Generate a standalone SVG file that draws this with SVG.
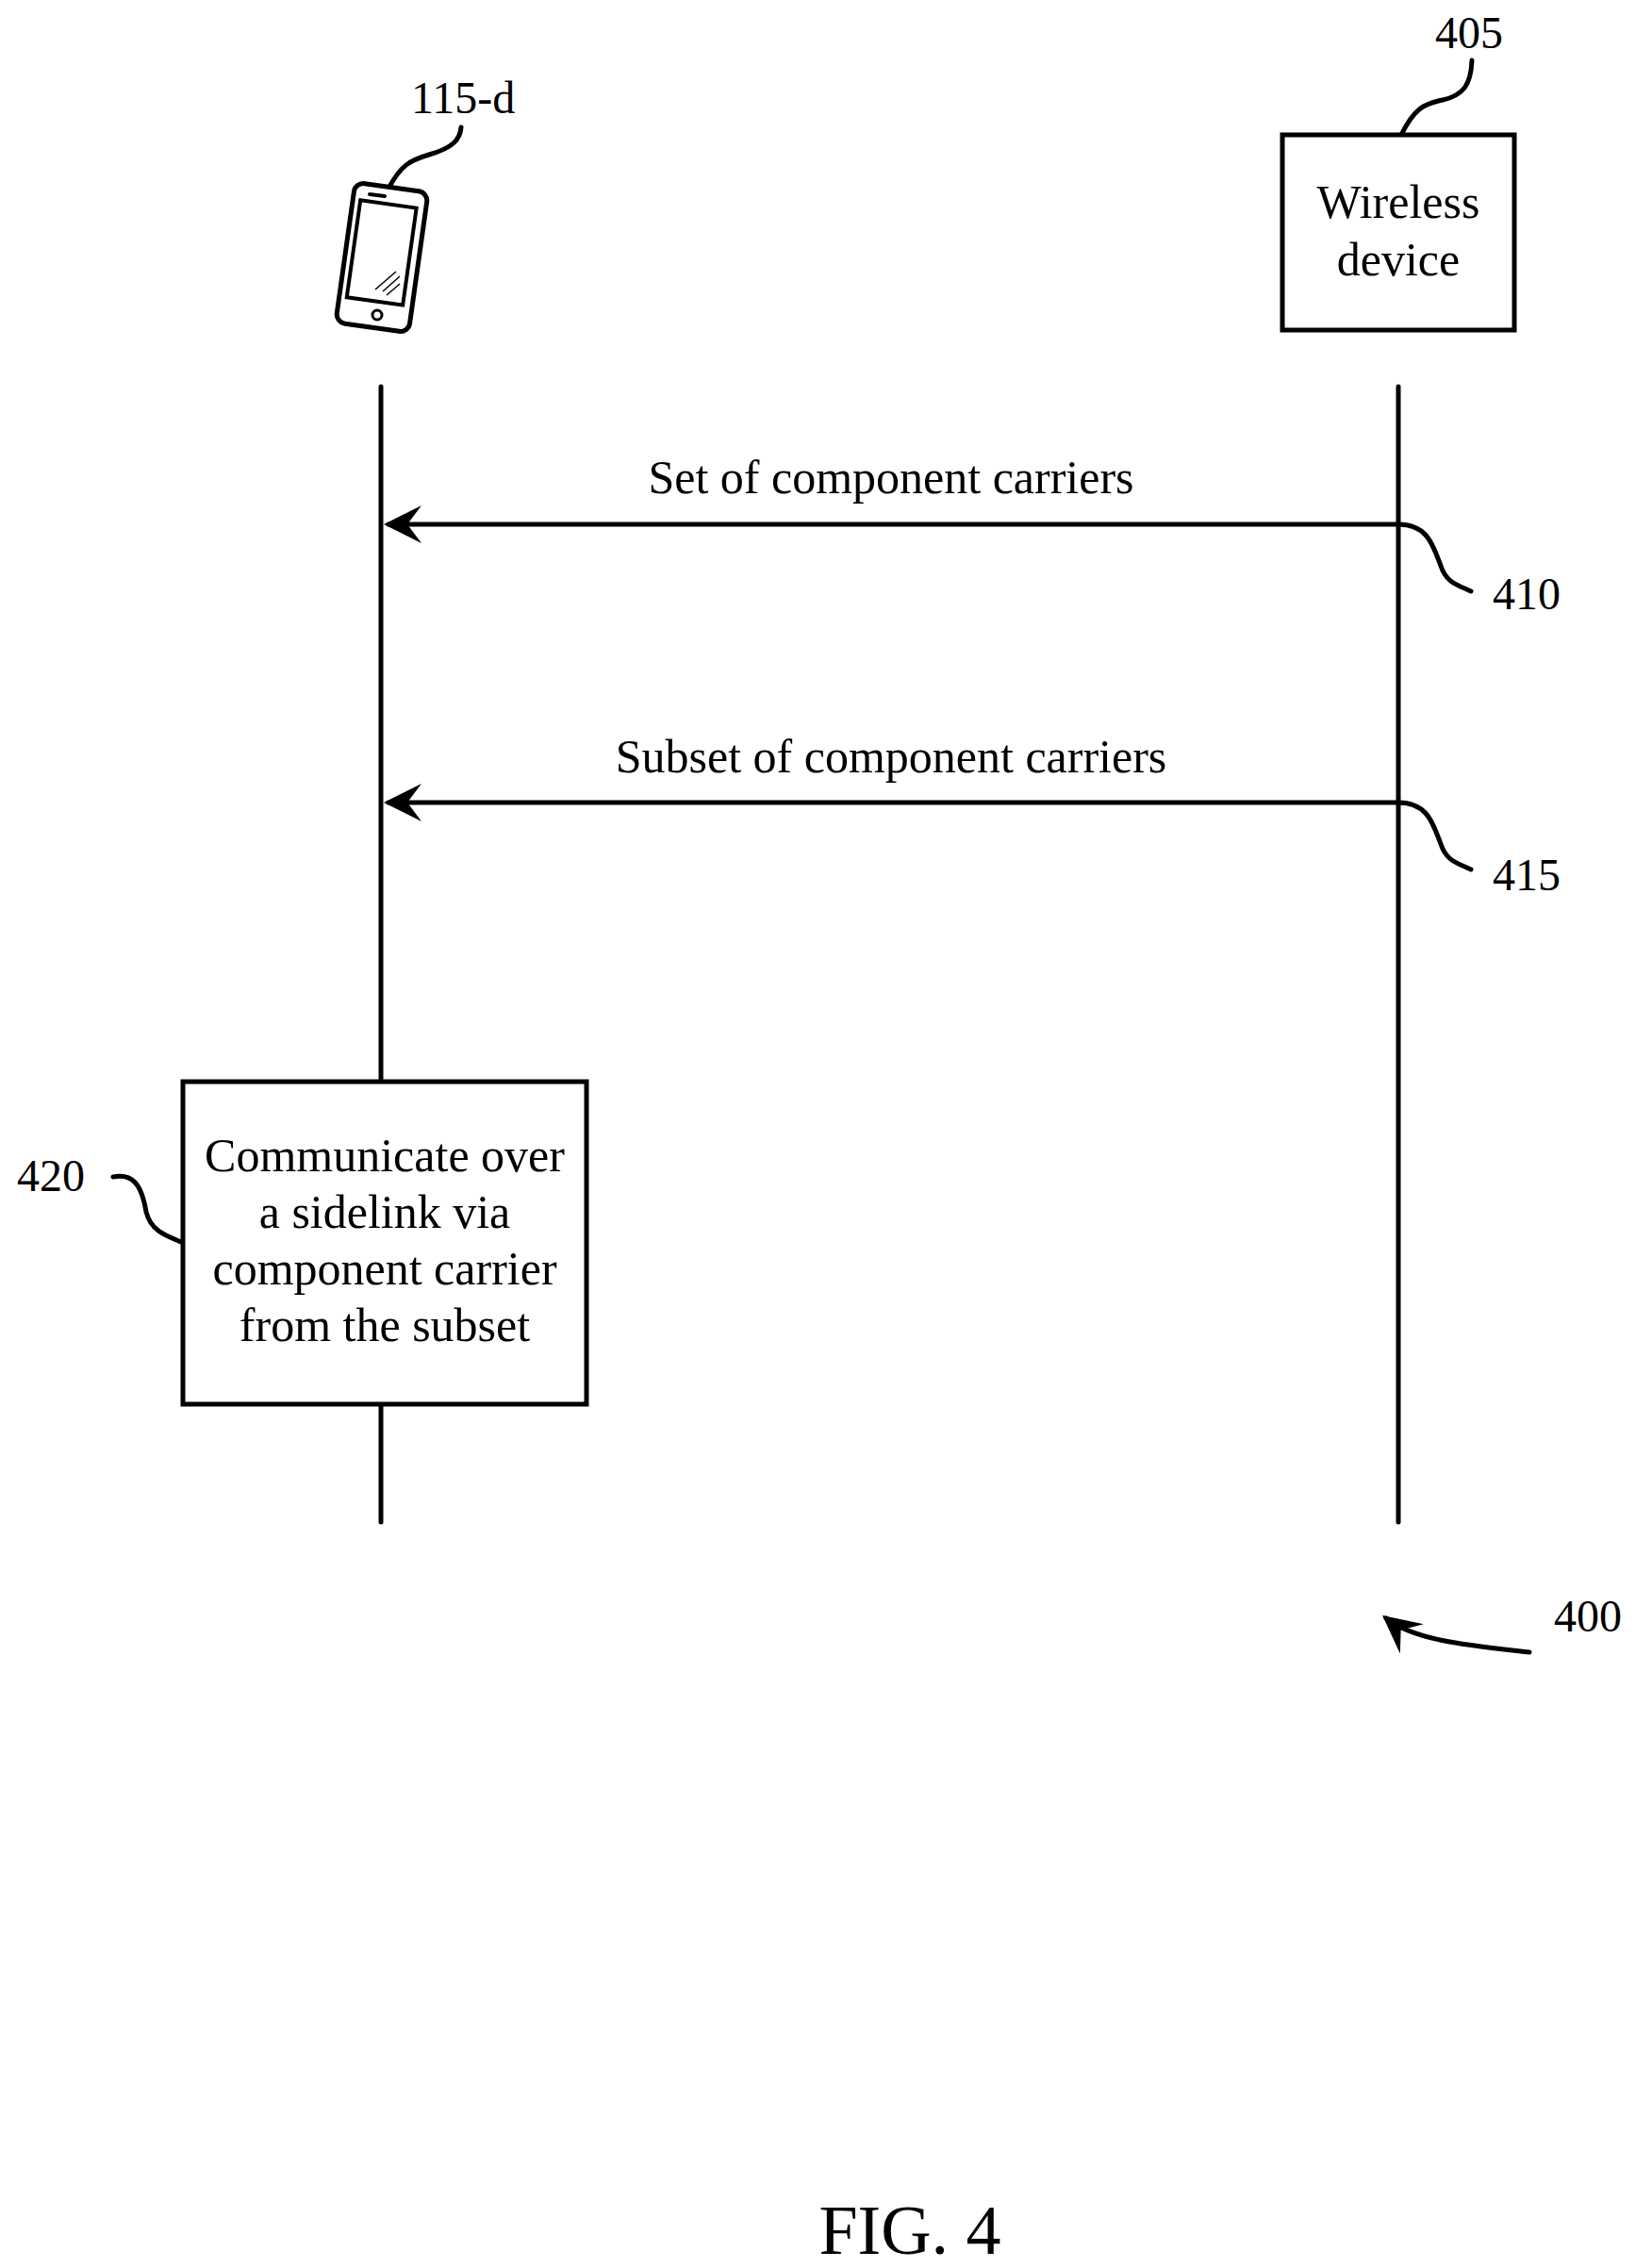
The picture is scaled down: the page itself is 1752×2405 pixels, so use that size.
<svg xmlns="http://www.w3.org/2000/svg" width="1752" height="2405" viewBox="0 0 1752 2405">
<style>
text{font-family:"Liberation Serif","Times New Roman",serif;fill:#000}
.t{font-size:50px;text-anchor:middle}
.r{font-size:48px}
.ln{stroke:#000;stroke-width:5;fill:none;stroke-linecap:round}
.bx{stroke:#000;stroke-width:5;fill:#fff}
</style>
<defs>
<marker id="ah" markerWidth="8" markerHeight="8" refX="7" refY="4" orient="auto" markerUnits="strokeWidth">
<path d="M0,0 L8,4 L0,8 L3,4 Z" fill="#000"/>
</marker>
</defs>
<rect width="1752" height="2405" fill="#fff"/>
<g id="connectors">
<line class="ln" x1="404" y1="410" x2="404" y2="1147"/>
<line class="ln" x1="404" y1="1489" x2="404" y2="1614"/>
<line class="ln" x1="1483" y1="410" x2="1483" y2="1614"/>
<line class="ln" x1="1483" y1="556" x2="412" y2="556" marker-end="url(#ah)"/>
<line class="ln" x1="1483" y1="851" x2="412" y2="851" marker-end="url(#ah)"/>
<path class="ln" d="M1483,556 C1515,556 1520,580 1528,600 C1534,618 1545,620 1560,627"/>
<path class="ln" d="M1483,851 C1515,851 1520,875 1528,895 C1534,913 1545,915 1560,922"/>
<path class="ln" d="M1486,143 C1500,115 1510,110 1530,106 C1552,101 1560,90 1561,64"/>
<path class="ln" d="M412,200 C425,175 435,170 455,164 C480,157 488,148 489,135"/>
<path class="ln" d="M120,1248 C140,1244 150,1255 155,1285 C160,1305 175,1310 192,1317"/>
<path class="ln" d="M1622,1752 C1560,1745 1500,1740 1470,1716" marker-end="url(#ah)"/>
</g>
<g id="ue">
<rect x="366" y="198" width="78" height="150" rx="10" transform="rotate(8 405 273)" fill="#fff" stroke="#000" stroke-width="5"/>
<rect x="374" y="216" width="60" height="104" transform="rotate(8 405 273)" fill="none" stroke="#000" stroke-width="4"/>
<line x1="392" y1="206" x2="408" y2="208" stroke="#000" stroke-width="4" stroke-linecap="round"/>
<circle cx="400" cy="334" r="5" fill="none" stroke="#000" stroke-width="3"/>
<path d="M398,307 L420,288 M406,309 L424,293 M410,313 L424,301" stroke="#000" stroke-width="1.5"/>
<text class="r" x="436" y="120">115-d</text>
</g>
<g id="wd">
<rect class="bx" x="1360" y="143" width="246" height="207"/>
<text class="t" x="1483" y="231">Wireless</text>
<text class="t" x="1483" y="292">device</text>
<text class="r" x="1522" y="51">405</text>
</g>
<g id="m410">
<text class="t" x="945" y="523">Set of component carriers</text>
<text class="r" x="1583" y="646">410</text>
</g>
<g id="m415">
<text class="t" x="945" y="819">Subset of component carriers</text>
<text class="r" x="1583" y="944">415</text>
</g>
<g id="b420">
<rect class="bx" x="194" y="1147" width="428" height="342"/>
<text class="t" x="408" y="1242">Communicate over</text>
<text class="t" x="408" y="1302">a sidelink via</text>
<text class="t" x="408" y="1362">component carrier</text>
<text class="t" x="408" y="1422">from the subset</text>
<text class="r" x="18" y="1263">420</text>
</g>
<g id="fig">
<text class="r" x="1648" y="1730">400</text>
<text x="965" y="2390" font-size="74" text-anchor="middle">FIG. 4</text>
</g>
</svg>
